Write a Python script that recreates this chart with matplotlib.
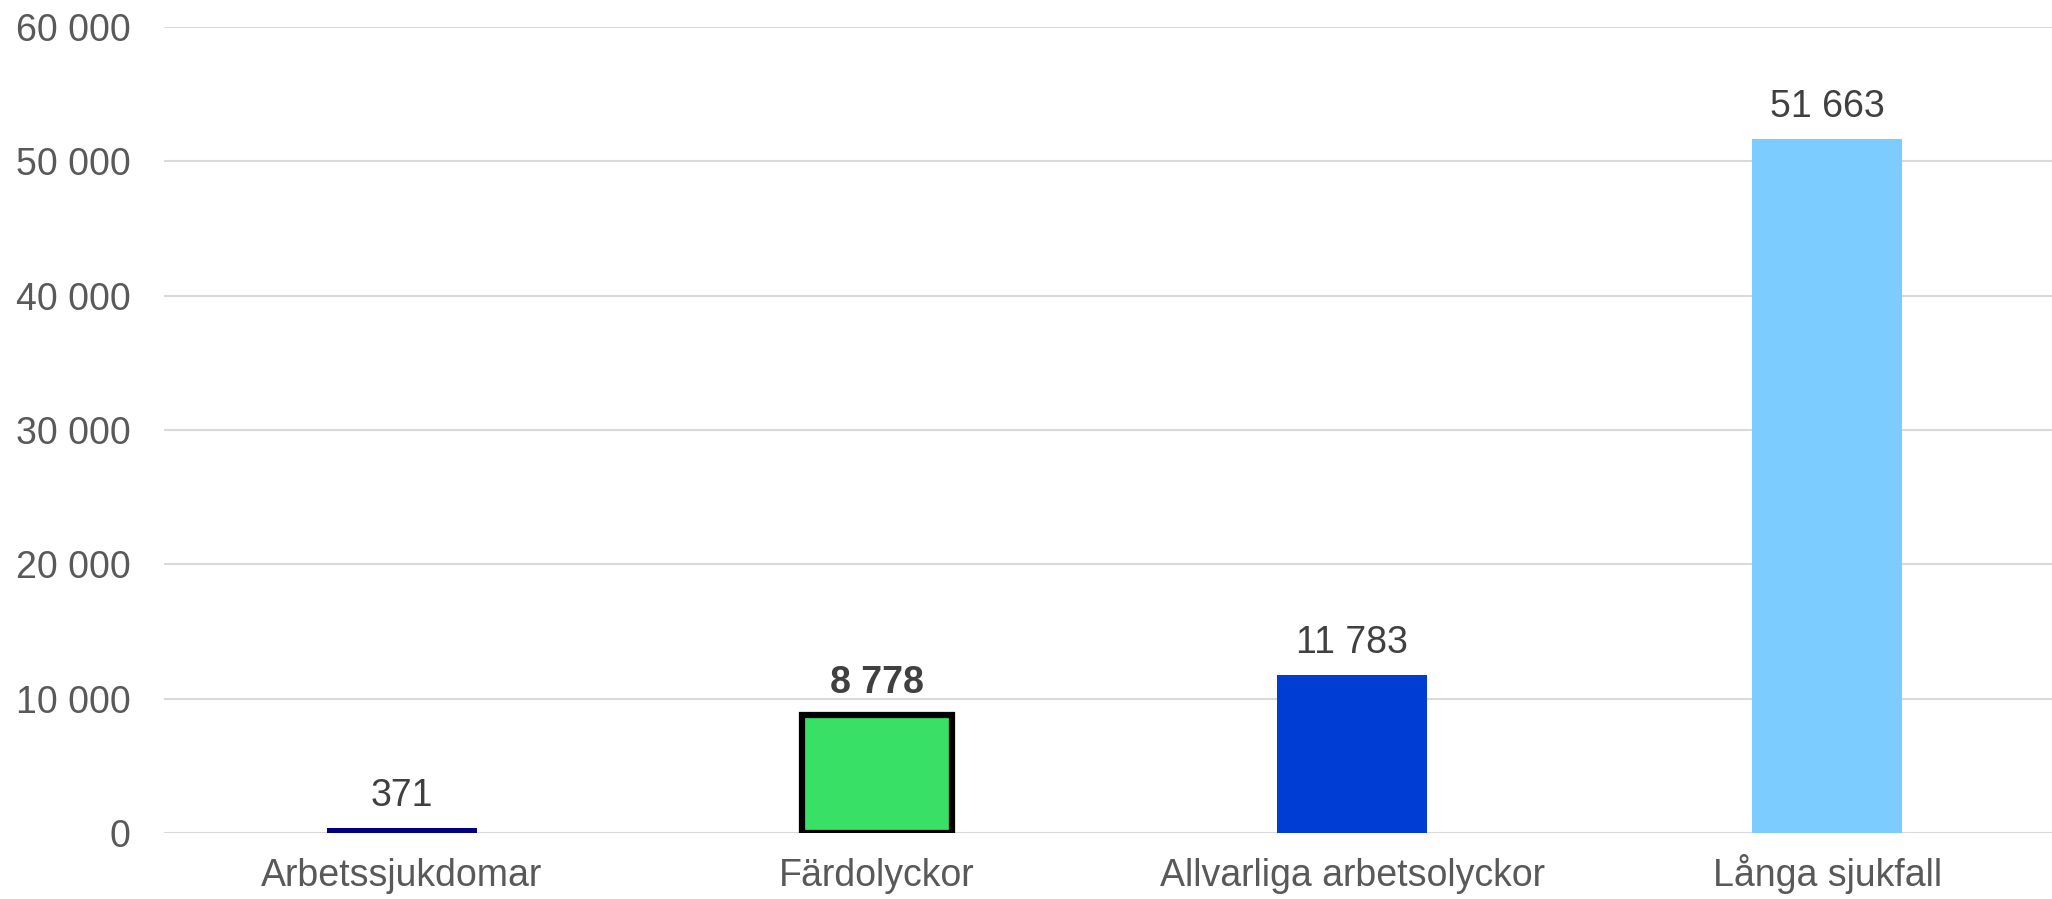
import matplotlib
matplotlib.use("Agg")
import matplotlib.pyplot as plt

categories = ["Arbetssjukdomar", "Färdolyckor", "Allvarliga arbetsolyckor", "Långa sjukfall"]
values = [371, 8778, 11783, 51663]
colors = ["#000080", "#38E066", "#003DD4", "#7DCCFF"]
yticks = [0, 10000, 20000, 30000, 40000, 50000, 60000]

def fmt(v):
    return f"{v:,}".replace(",", " ")

plt.rcParams['font.family'] = ['Liberation Sans', 'DejaVu Sans']

W, H = 2052, 899
fig = plt.figure(figsize=(W / 100, H / 100), dpi=100)
left, right = 164 / W, 2065 / W
top_px, bot_px = 27, 833
ax = fig.add_axes([left, 1 - bot_px / H, right - left, (bot_px - top_px) / H])

x = list(range(len(categories)))
bars = ax.bar(x, values, width=0.316, color=colors, zorder=3)
# highlighted bar
bars[1].set_edgecolor("black")
bars[1].set_linewidth(4.5)

ax.set_xlim(-0.5, len(categories) - 0.5)
ax.set_ylim(0, 60000)
ax.set_yticks(yticks)
ax.set_yticklabels([fmt(v) for v in yticks])
ax.set_xticks(x)
ax.set_xticklabels(categories, va="baseline")

ax.tick_params(axis='y', length=0, pad=24, labelsize=27, labelcolor="#595959")
ax.tick_params(axis='x', length=0, pad=38, labelsize=27, labelcolor="#595959")
ax.grid(axis='y', color="#D9D9D9", linewidth=1.5, zorder=0)
ax.set_axisbelow(True)
for s in ax.spines.values():
    s.set_visible(False)

for i, v in enumerate(values):
    ax.annotate(fmt(v), xy=(i, v), xytext=(0, 23), textcoords="offset points",
                ha="center", va="center", fontsize=27, color="#404040",
                fontweight="bold" if i == 1 else "normal")

fig.savefig("out.png", dpi=100, facecolor="white")
